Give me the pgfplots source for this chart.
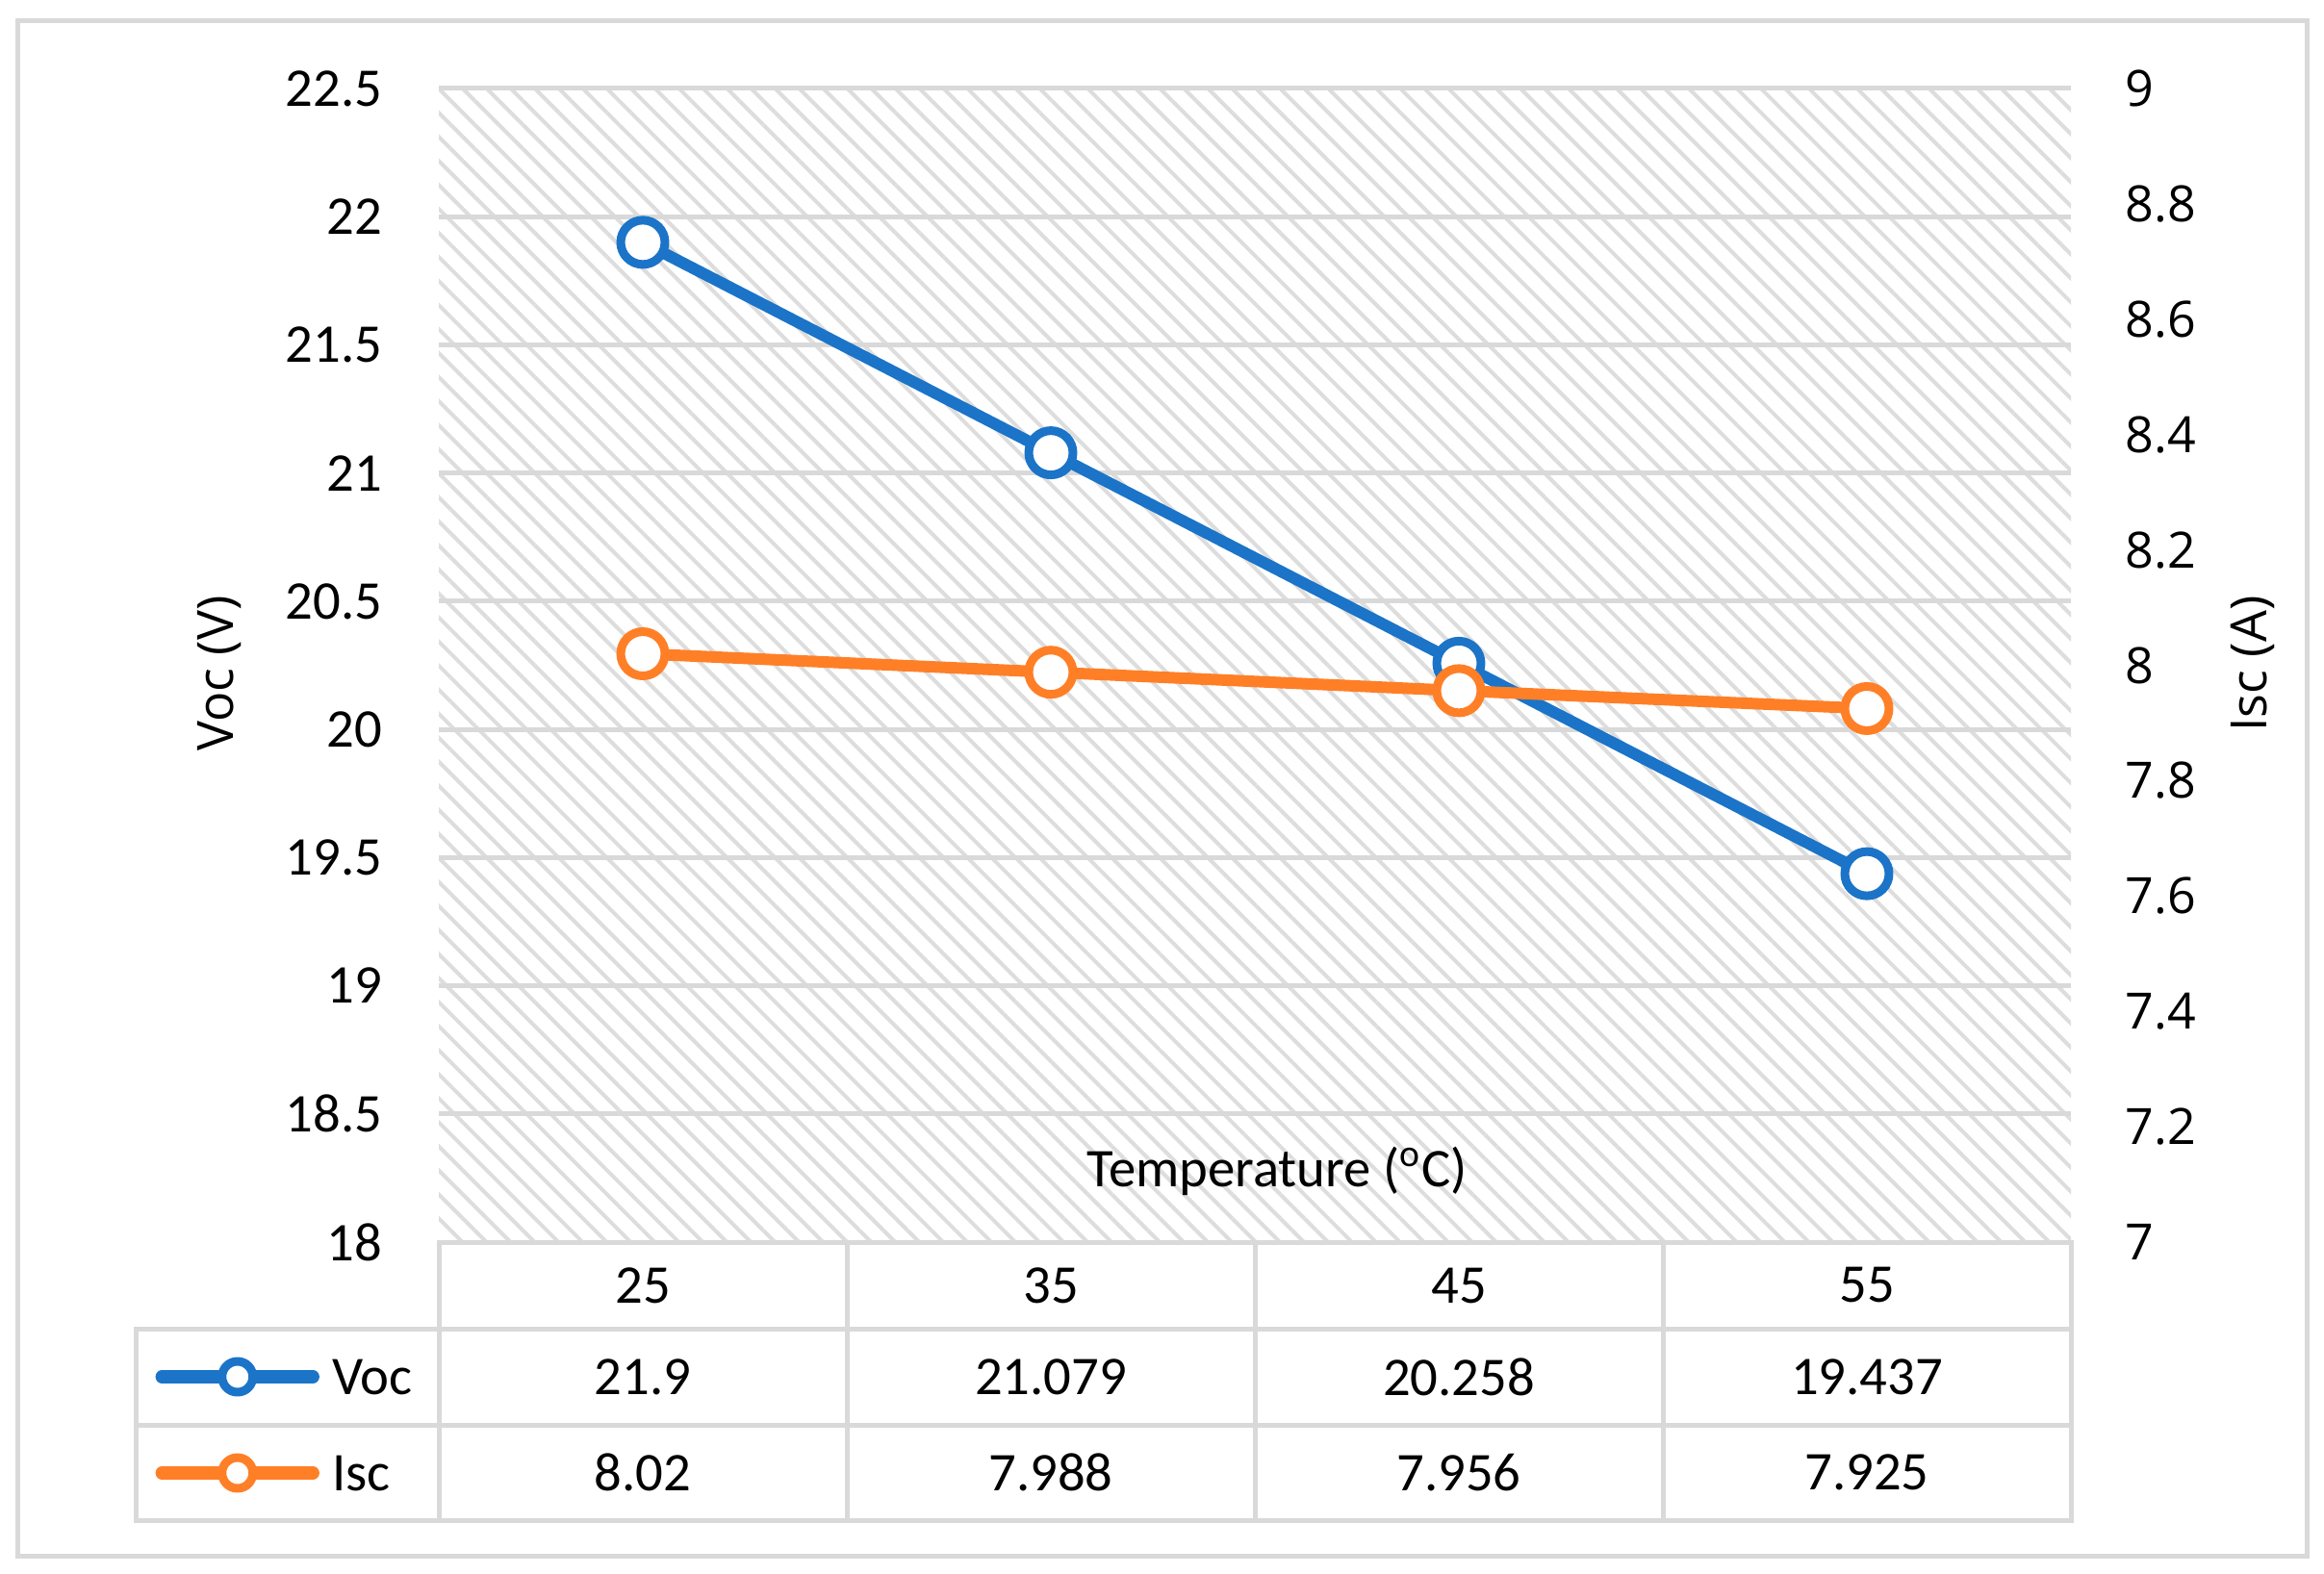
\documentclass[border=0pt]{standalone}
\usepackage{fontspec}
\setmainfont{Carlito}
\newfontfamily\segoe{Open Sans}
\usepackage{pgfplots}
\pgfplotsset{compat=1.18}
\usetikzlibrary{patterns.meta}

\definecolor{vocblue}{HTML}{1B74C8}
\definecolor{iscorange}{HTML}{FF7F27}
\definecolor{gridgray}{HTML}{D9D9D9}
\definecolor{hatchgray}{HTML}{DDDDDD}

\newcommand\calfont{\fontsize{17pt}{20pt}\selectfont}
\newcommand\segfont{\segoe\fontsize{15.6pt}{18pt}\selectfont}

\pgfplotsset{
  vocstyle/.style={color=vocblue, line width=3.6pt, line cap=round, line join=round,
    mark=*, mark size=6.9pt, mark options={solid, fill=white, draw=vocblue, line width=2.7pt}},
  iscstyle/.style={color=iscorange, line width=3.6pt, line cap=round, line join=round,
    mark=*, mark size=6.9pt, mark options={solid, fill=white, draw=iscorange, line width=2.7pt}},
}

\begin{document}
\begin{tikzpicture}
\useasboundingbox (0,0) rectangle (724.5pt,490.5pt);
\draw[gridgray, line width=1.5pt] (5.4pt,5.4pt) rectangle (719.1pt,483.9pt);

\begin{axis}[
  at={(136.8pt,103.2pt)}, anchor=south west,
  width=508.8pt, height=359.7pt, scale only axis,
  xmin=-0.5, xmax=3.5, ymin=18, ymax=22.5,
  xtick=\empty,
  ytick={18,18.5,19,19.5,20,20.5,21,21.5,22,22.5},
  ytick pos=left,
  axis line style={draw=none},
  major tick length=0pt,
  ymajorgrids, major grid style={gridgray, line width=1.5pt},
  axis background/.style={pattern={Lines[angle=-45,distance=5.3pt,line width=1.2pt]}, pattern color=hatchgray},
  yticklabel style={font=\calfont, anchor=east, inner sep=0pt, xshift=-17.4pt},
  /pgf/number format/assume math mode=true,
  ylabel={Voc (V)},
  ylabel style={font=\segfont, at={(axis description cs:-0.1344,0.4929)}, anchor=center},
  clip=false,
]
\addplot[vocstyle] coordinates {(0,21.9) (1,21.079) (2,20.258) (3,19.437)};
\node[font=\calfont] at (axis description cs:0.5136,0.0617) {Temperature (\textsuperscript{o}C)};
\end{axis}

\begin{axis}[
  at={(136.8pt,103.2pt)}, anchor=south west,
  width=508.8pt, height=359.7pt, scale only axis,
  xmin=-0.5, xmax=3.5, ymin=7, ymax=9,
  xtick=\empty,
  ytick={7,7.2,7.4,7.6,7.8,8,8.2,8.4,8.6,8.8,9},
  ytick pos=right, yticklabel pos=right,
  axis line style={draw=none},
  major tick length=0pt,
  yticklabel style={font=\segfont, anchor=west, inner sep=0pt, xshift=16.8pt},
  /pgf/number format/assume math mode=true,
  ylabel={Isc (A)},
  ylabel style={font=\segfont, at={(axis description cs:1.1114,0.5013)}, anchor=center},
  clip=false,
  legend cell align=left,
  legend style={at={(axis description cs:-0.1736,-0.07506)}, anchor=north west,
    draw=none, fill=none, inner sep=0pt, outer sep=0pt, row sep=0pt, column sep=4pt,
    nodes={inner sep=0pt, outer sep=0pt, text height=20.5pt, text depth=9.5pt, anchor=west, font=\calfont}},
  legend image code/.code={
    \draw[line width=4pt, line cap=round] (0pt,0pt) -- (47.1pt,0pt);
    \draw[mark size=4.8pt] plot coordinates {(23.55pt,0pt)};
  },
]
\addlegendimage{vocstyle}
\addlegendentry{Voc}
\addplot[iscstyle] coordinates {(0,8.02) (1,7.988) (2,7.956) (3,7.925)};
\addlegendentry{Isc}
\end{axis}

\begin{scope}[gridgray, line width=1.5pt, line cap=rect]
\draw (42.3pt,76.2pt) -- (645.6pt,76.2pt);
\draw (42.3pt,46.2pt) -- (645.6pt,46.2pt);
\draw (42.3pt,16.5pt) -- (645.6pt,16.5pt);
\draw (42.3pt,76.2pt) -- (42.3pt,16.5pt);
\foreach \x in {136.8,264.0,391.2,518.4,645.6} \draw (\x pt,103.2pt) -- (\x pt,16.5pt);
\end{scope}

\foreach \x/\t in {200.4/25, 327.6/35, 454.8/45, 582.0/55}
  \node[font=\calfont] at (\x pt, 89.7pt) {\t};
\foreach \x/\t in {200.4/21.9, 327.6/21.079, 454.8/20.258, 582.0/19.437}
  \node[font=\calfont] at (\x pt, 61.2pt) {\t};
\foreach \x/\t in {200.4/8.02, 327.6/7.988, 454.8/7.956, 582.0/7.925}
  \node[font=\calfont] at (\x pt, 31.35pt) {\t};
\end{tikzpicture}
\end{document}
